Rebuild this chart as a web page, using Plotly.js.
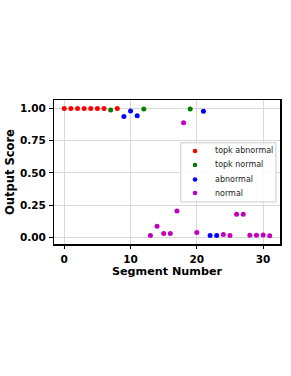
<!DOCTYPE html>
<html><head><meta charset="utf-8">
<script src="https://cdn.plot.ly/plotly-3.0.1.min.js"></script>
<style>html,body{margin:0;padding:0;background:#fff}#c{width:291px;height:376px}</style>
</head><body><div id="c"></div>
<script>
const topkAbnX = [0,1,2,3,4,5,6,8];
const topkAbnY = [1.0,1.0,1.0,1.0,1.0,1.0,1.0,1.0];
const topkNorX = [7,12,19];
const topkNorY = [0.987,0.995,0.995];
const abnX = [9,10,11,21,22,23];
const abnY = [0.938,0.979,0.943,0.977,0.016,0.016];
const norX = [13,14,15,16,17,18,20,24,25,26,27,28,29,30,31];
const norY = [0.016,0.088,0.031,0.031,0.206,0.889,0.039,0.023,0.016,0.18,0.18,0.018,0.018,0.02,0.013];
const names = ['topk abnormal','topk normal','abnormal','normal'];
const colors = ['#ff0000','#008000','#0000ff','#bf00bf'];
const xTicks = [0,10,20,30];
const yTicks = [0,0.25,0.5,0.75,1.0];
const yTickText = ['0.00','0.25','0.50','0.75','1.00'];
const xs=[topkAbnX,topkNorX,abnX,norX], ys=[topkAbnY,topkNorY,abnY,norY];
const data = xs.map((x,i)=>({x:x,y:ys[i],type:'scatter',mode:'markers',name:names[i],
  marker:{color:colors[i],size:5}}));
const font = 'DejaVu Sans, sans-serif';

// custom legend (matplotlib-like compact legend)
const legRowsY = [0.646,0.549,0.448,0.354];
const shapes = [{type:'rect',xref:'paper',yref:'paper',x0:0.561,x1:0.982,y0:0.292,y1:0.703,
  line:{color:'#cccccc',width:1},fillcolor:'rgba(255,255,255,0.85)',layer:'above'}];
const annotations = [{xref:'paper',yref:'paper',x:-0.195,y:0.5,xanchor:'center',yanchor:'middle',
  textangle:-90,text:'Output Score',showarrow:false,font:{family:font,size:11.5,weight:'bold',color:'#000'}}];
names.forEach((n,i)=>{
  shapes.push({type:'circle',xref:'paper',yref:'paper',xsizemode:'pixel',ysizemode:'pixel',
    xanchor:0.624,yanchor:legRowsY[i],x0:-2.3,x1:2.3,y0:-2.3,y1:2.3,
    fillcolor:colors[i],line:{width:0},layer:'above'});
  annotations.push({xref:'paper',yref:'paper',x:0.702,y:legRowsY[i],xanchor:'left',yanchor:'middle',
    text:n,showarrow:false,font:{family:font,size:8,color:'#222'}});
});

const layout = {
  width:291,height:376,
  margin:{l:54,r:11,t:100,b:132},
  paper_bgcolor:'#fff',plot_bgcolor:'#fff',
  showlegend:false,
  font:{family:font,color:'#000'},
  shapes:shapes, annotations:annotations,
  xaxis:{range:[-1.55,32.55],tickvals:xTicks,ticktext:xTicks.map(String),
    showgrid:true,gridcolor:'#d9d9d9',gridwidth:1,zeroline:false,
    showline:true,mirror:true,linecolor:'#000',linewidth:1.5,
    ticks:'outside',ticklen:3.5,tickcolor:'#000',ticklabelstandoff:1,
    tickfont:{family:font,size:10.5,weight:'bold'},
    title:{text:'Segment Number',font:{family:font,size:11.2,weight:'bold'},standoff:1}},
  yaxis:{range:[-0.05,1.065],tickvals:yTicks,ticktext:yTickText,
    showgrid:true,gridcolor:'#d9d9d9',gridwidth:1,zeroline:false,
    showline:true,mirror:true,linecolor:'#000',linewidth:1.5,
    ticks:'outside',ticklen:3.5,tickcolor:'#000',ticklabelstandoff:1,
    tickfont:{family:font,size:10.5,weight:'bold'}}
};
Plotly.newPlot('c',data,layout,{displayModeBar:false,staticPlot:true});
</script></body></html>
